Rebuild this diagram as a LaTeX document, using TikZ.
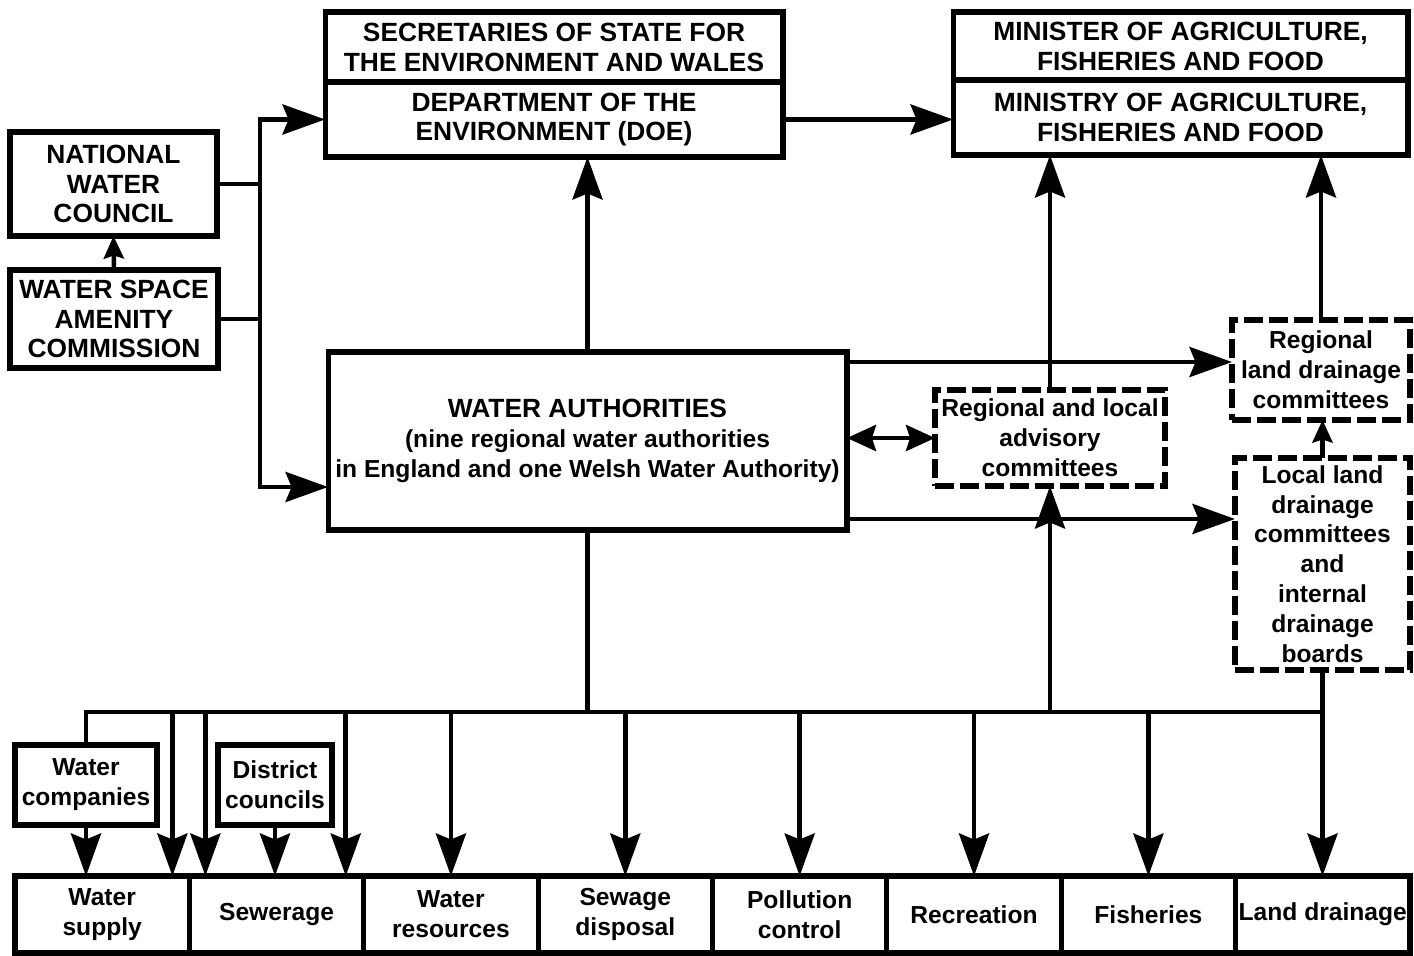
\documentclass[tikz,border=0pt]{standalone}
\usepackage{fontspec}
\setmainfont{Liberation Sans}
\usetikzlibrary{arrows.meta,positioning,calc}

\newcommand{\lowsize}{\fontsize{14}{17}\selectfont}

\begin{document}
\begin{tikzpicture}[
  x=0.02cm, y=-0.02cm,
  font=\bfseries\fontsize{15}{17}\selectfont,
  box/.style={draw, line width=2.9pt, rectangle, align=center, inner sep=1pt, outer sep=0pt},
  dbox/.style={box, line width=3.2pt, dash pattern=on 0.38cm off 0.12cm, font=\bfseries\lowsize},
  task/.style={box, minimum width=3.488cm, minimum height=1.54cm, font=\bfseries\lowsize},
  wire/.style={line width=2.6pt},
  arr/.style={wire, -{Stealth[length=0.85cm, width=0.6cm, inset=0.12cm]}},
  arrs/.style={wire, {Stealth[length=0.85cm, width=0.6cm, inset=0.12cm]}-{Stealth[length=0.85cm, width=0.6cm, inset=0.12cm]}},
  sarr/.style={wire, -{Stealth[length=0.45cm, width=0.4cm, inset=0.06cm]}},
  darr/.style={wire, {Stealth[length=0.58cm, width=0.52cm, inset=0.08cm]}-{Stealth[length=0.58cm, width=0.52cm, inset=0.08cm]}}
]
\useasboundingbox (0,0) rectangle (1414,956);

% ministers and departments
\node[box, minimum width=9.16cm, minimum height=1.4cm] (secs) at (554,47) {SECRETARIES OF STATE FOR\\THE ENVIRONMENT AND WALES};
\node[box, minimum width=9.16cm, minimum height=1.5cm, below=0pt of secs] (doe) {DEPARTMENT OF THE\\ENVIRONMENT (DOE)};
\node[box, minimum width=9.1cm, minimum height=1.36cm] (minister) at (1180.5,46) {MINISTER OF AGRICULTURE,\\FISHERIES AND FOOD};
\node[box, minimum width=9.1cm, minimum height=1.5cm, below=0pt of minister] (ministry) {MINISTRY OF AGRICULTURE,\\FISHERIES AND FOOD};

% national bodies
\node[box, minimum width=4.14cm, minimum height=2.08cm] (nwc) at (113.5,184) {NATIONAL\\WATER\\COUNCIL};
\node[box, minimum width=4.16cm, minimum height=1.96cm] (wsac) at (114,319) {WATER SPACE\\AMENITY\\COMMISSION};

% authorities and committees
\node[box, minimum width=10.38cm, minimum height=3.56cm] (wa) at (587.5,441) {WATER AUTHORITIES\\{\lowsize(nine regional water authorities}\\{\lowsize in England and one Welsh Water Authority)}};
\node[dbox, minimum width=4.6cm, minimum height=1.92cm] (adv) at (1050,438) {Regional and local\\advisory\\committees};
\node[dbox, minimum width=3.56cm, minimum height=2cm] (rldc) at (1321,370) {Regional\\land drainage\\committees};
\node[dbox, minimum width=3.5cm, minimum height=4.24cm] (lldc) at (1322.5,564) {Local land\\drainage\\committees\\and\\internal\\drainage\\boards};

% other suppliers
\node[box, minimum width=2.84cm, minimum height=1.6cm, font=\bfseries\lowsize] (wcos) at (86,785) {Water\\companies};
\node[box, minimum width=2.28cm, minimum height=1.6cm, font=\bfseries\lowsize] (dcs) at (275,785) {District\\councils};

% functions
\node[task] (supply) at (102.2,914.5) {Water\\supply};
\node[task, right=0pt of supply] (sewer) {Sewerage};
\node[task, right=0pt of sewer] (res) {Water\\resources};
\node[task, right=0pt of res] (disp) {Sewage\\disposal};
\node[task, right=0pt of disp] (poll) {Pollution\\control};
\node[task, right=0pt of poll] (recr) {Recreation};
\node[task, right=0pt of recr] (fish) {Fisheries};
\node[task, right=0pt of fish] (drain) {Land drainage};

% left feed
\coordinate (feed) at (260,300);
\coordinate (waIn) at ([yshift=-0.92cm]wa.west);
\draw[arrs] (doe.west) -| (feed) |- (waIn);
\draw[wire] (nwc.east) -- (nwc.east -| feed);
\draw[wire] (wsac.east) -- (wsac.east -| feed);
\draw[sarr] (wsac.north) -- (nwc.south);

% upwards to the ministries
\draw[arr] (wa.north) -- (wa.north |- doe.south);
\draw[arr] (doe.east) -- (doe.east -| ministry.west);
\draw[arr] (adv.north) -- (adv.north |- ministry.south);
\draw[arr] (rldc.north) -- (rldc.north |- ministry.south);
\draw[sarr] (lldc.north) -- (lldc.north |- rldc.south);

% authorities to the committees
\draw[darr] (wa.east |- adv.west) -- (adv.west);
\coordinate (upper) at ([yshift=-0.2cm]wa.north east);
\coordinate (lower) at ([yshift=0.22cm]wa.south east);
\draw[arr] (upper) -- (upper -| rldc.west);
\draw[arr] (lower) -- (lower -| lldc.west);

% bus down to the functions
\coordinate (bus) at (588,712);
\draw[wire] (wa.south) -- (wa.south |- bus);
\draw[wire] (wcos.north) |- (lldc.south |- bus) -- (lldc.south);
\draw[arr] (lldc.south) -- (lldc.south |- drain.north);
\draw[arr] (adv.south |- bus) -- (adv.south);
\draw[arr] (wcos.south) -- (wcos.south |- supply.north);
\draw[arr] (dcs.south) -- (dcs.south |- sewer.north);
\coordinate (d1) at ([xshift=-0.34cm]supply.north east);
\coordinate (d2) at ([xshift=0.32cm]sewer.north west);
\coordinate (d3) at ([xshift=-0.36cm]sewer.north east);
\draw[arr] (d1 |- bus) -- (d1);
\draw[arr] (d2 |- bus) -- (d2);
\draw[arr] (d3 |- bus) -- (d3);
\draw[arr] (res.north |- bus) -- (res.north);
\draw[arr] (disp.north |- bus) -- (disp.north);
\draw[arr] (poll.north |- bus) -- (poll.north);
\draw[arr] (recr.north |- bus) -- (recr.north);
\draw[arr] (fish.north |- bus) -- (fish.north);
\end{tikzpicture}
\end{document}
